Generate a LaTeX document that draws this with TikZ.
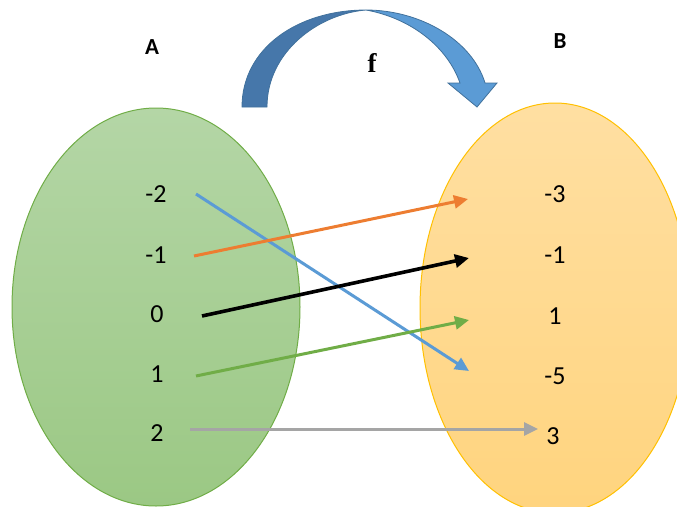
\documentclass[tikz,border=0pt]{standalone}
\usepackage{fontspec}
\setmainfont{Carlito}
\newfontfamily\serifbold{Liberation Serif}
\usetikzlibrary{arrows.meta}
\definecolor{gfill1}{HTML}{B4D6A6}
\definecolor{gfill2}{HTML}{9BC884}
\definecolor{gline}{HTML}{70AD47}
\definecolor{ofill1}{HTML}{FFDFA2}
\definecolor{ofill2}{HTML}{FFD47E}
\definecolor{oline}{HTML}{FFC000}
\definecolor{cblue}{HTML}{5B9BD5}
\definecolor{cbluedark}{HTML}{4677AA}
\definecolor{cblueline}{HTML}{41719C}
\definecolor{corange}{HTML}{ED7D31}
\definecolor{cgreen}{HTML}{70AD47}
\definecolor{cgray}{HTML}{A5A5A5}
\tikzset{
  num/.style={font=\fontsize{26}{28}\selectfont, inner sep=0pt},
  setname/.style={font=\fontsize{23}{25}\selectfont\bfseries, inner sep=0pt},
  maparrow/.style={line width=3pt, -{Triangle[length=14pt,width=13pt]}, shorten >=0pt},
}
\begin{document}
\begin{tikzpicture}[x=1pt,y=-1pt]
\useasboundingbox (0,0) rectangle (677,506);
\begin{scope}
\clip (0,0) rectangle (677,506);
\shade[top color=gfill1, bottom color=gfill2, draw=gline, line width=1pt]
  (156,307) ellipse [x radius=144, y radius=199];
\shade[top color=ofill1, bottom color=ofill2, draw=oline, line width=1pt]
  (555,308) ellipse [x radius=135, y radius=205];
\end{scope}
% curved arrow f
\filldraw[fill=cbluedark, draw=cblueline, line width=0.8pt]
  (242,107) .. controls (242,48) and (298,10) .. (366,10)
  .. controls (318,14) and (267,52) .. (267,107) -- cycle;
\filldraw[fill=cblue, draw=cblueline, line width=0.8pt]
  (366,10) .. controls (420,10) and (472,40) .. (485,83)
  -- (497,83) -- (477,107) -- (448,83) -- (460,83)
  .. controls (447,46) and (410,18) .. (366,10) -- cycle;
\node[font=\fontsize{27}{29}\selectfont\serifbold\bfseries, inner sep=0pt] (f) at (372,63) {f};
% set names
\node[setname] (A) at (152,47) {A};
\node[setname] (B) at (560,41) {B};
% domain
\node[num] (a1) at (156,194) {-2};
\node[num] (a2) at (156,255) {-1};
\node[num] (a3) at (157,314) {0};
\node[num] (a4) at (157,374) {1};
\node[num] (a5) at (157,433) {2};
% codomain
\node[num] (b1) at (555,194) {-3};
\node[num] (b2) at (555,255) {-1};
\node[num] (b3) at (555,316) {1};
\node[num] (b4) at (555,376) {-5};
\node[num] (b5) at (553,436) {3};
% connector endpoints
\coordinate (s1) at (196,194); \coordinate (t1) at (469,371);
\coordinate (s2) at (194,256); \coordinate (t2) at (468,199);
\coordinate (s3) at (202,316); \coordinate (t3) at (469,258);
\coordinate (s4) at (196,376); \coordinate (t4) at (469,320);
\coordinate (s5) at (190,429); \coordinate (t5) at (538,429);
\draw[maparrow, cblue] (s1) -- (t1);
\draw[maparrow, corange] (s2) -- (t2);
\draw[maparrow, black, line width=3.6pt] (s3) -- (t3);
\draw[maparrow, cgreen] (s4) -- (t4);
\draw[maparrow, cgray] (s5) -- (t5);
\end{tikzpicture}
\end{document}
